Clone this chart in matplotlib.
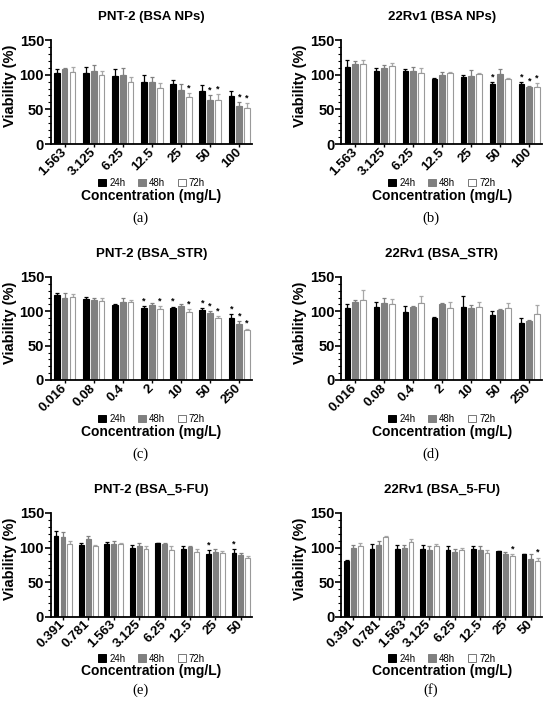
import numpy as np
import matplotlib
matplotlib.use("Agg")
import matplotlib.pyplot as plt
from matplotlib.patches import Patch
from matplotlib.ticker import MultipleLocator

plt.rcParams["font.family"] = ["Liberation Sans", "DejaVu Sans"]

times = ["24h", "48h", "72h"]

# (a) PNT-2 (BSA NPs)
conc_a = ["1.563", "3.125", "6.25", "12.5", "25", "50", "100"]
a_24 = [102, 102, 98.5, 90, 87, 77, 69]
a_48 = [107.5, 106, 100, 89, 78, 64, 55]
a_72 = [104, 99.5, 89, 80.5, 68.5, 64, 52]
a_err24 = [6, 9, 9, 9, 6, 8, 8]
a_err48 = [1.5, 8, 10, 7, 8, 6, 5]
a_err72 = [7, 6, 8, 7, 5, 8, 7]
a_stars = [(4, 2), (5, 1), (5, 2), (6, 1), (6, 2)]

# (b) 22Rv1 (BSA NPs)
conc_b = ["1.563", "3.125", "6.25", "12.5", "25", "50", "100"]
b_24 = [110.5, 105, 105, 94, 97, 86.5, 86.5]
b_48 = [115, 109.5, 106, 99.5, 98.5, 100.5, 81.5]
b_72 = [115.5, 113, 103, 103, 100.5, 94, 81.5]
b_err24 = [10, 5, 3, 1, 3, 3, 3]
b_err48 = [4, 4, 5, 4, 8, 8, 2.5]
b_err72 = [5, 4, 6, 1, 1.5, 1, 6]
b_stars = [(5, 0), (6, 0), (6, 1), (6, 2)]

# (c) PNT-2 (BSA_STR)
conc_c = ["0.016", "0.08", "0.4", "2", "10", "50", "250"]
c_24 = [123.5, 118, 109.5, 105, 105, 102.5, 91]
c_48 = [120, 116.5, 114, 109, 108, 97, 81.5]
c_72 = [121, 115.5, 113.5, 104, 99.5, 91, 72.5]
c_err24 = [2.5, 2.5, 1, 2.5, 2, 2.5, 5]
c_err48 = [6, 2.5, 5, 3, 2.5, 3, 4.5]
c_err72 = [4, 4, 3, 4, 4, 2.5, 2.5]
c_stars = [(3, 0), (3, 2), (4, 0), (4, 2), (5, 0), (5, 1), (5, 2),
           (6, 0), (6, 1), (6, 2)]

# (d) 22Rv1 (BSA_STR)
conc_d = ["0.016", "0.08", "0.4", "2", "10", "50", "250"]
d_24 = [105, 107, 99.5, 90, 106, 95, 83]
d_48 = [113, 112, 106, 111, 105, 102.5, 86.5]
d_72 = [117, 110.5, 112, 105, 107, 105, 96.5]
d_err24 = [5.5, 7, 8, 2, 17, 6, 8]
d_err48 = [4, 7, 1.5, 1.5, 4, 0.5, 1]
d_err72 = [14, 8, 11, 9, 7, 7, 12]
d_stars = []

# (e) PNT-2 (BSA_5-FU)
conc_e = ["0.391", "0.781", "1.563", "3.125", "6.25", "12.5", "25", "50"]
e_24 = [116.5, 103, 105, 99, 106, 98.5, 91, 92]
e_48 = [115, 112, 105, 102, 105, 100.5, 94, 89.5]
e_72 = [105, 102.5, 105, 98.5, 96, 93.5, 92.5, 85]
e_err24 = [8, 3.5, 3, 5, 1, 3.5, 5.5, 5.5]
e_err48 = [7, 4, 5, 4, 2, 2, 4.5, 3]
e_err72 = [4, 1, 1.5, 4, 6, 4, 3, 3]
e_stars = [(6, 0), (7, 0)]

# (f) 22Rv1 (BSA_5-FU)
conc_f = ["0.391", "0.781", "1.563", "3.125", "6.25", "12.5", "25", "50"]
f_24 = [80.5, 98.5, 98.5, 97.5, 97, 98, 94.5, 90]
f_48 = [99, 104, 99, 96, 93, 96, 90.5, 83.5]
f_72 = [101.5, 114.5, 108.5, 101.5, 97, 92.5, 87, 81]
f_err24 = [2, 6, 4.5, 6, 5.5, 4, 1, 1]
f_err48 = [5, 5, 4.5, 6, 4.5, 6, 3, 7]
f_err72 = [4.5, 2, 3.5, 3.5, 3, 4.5, 3, 4.5]
f_stars = [(6, 2), (7, 2)]

panels = [
    ("PNT-2 (BSA NPs)", "(a)", conc_a, [a_24, a_48, a_72], [a_err24, a_err48, a_err72], a_stars),
    ("22Rv1 (BSA NPs)", "(b)", conc_b, [b_24, b_48, b_72], [b_err24, b_err48, b_err72], b_stars),
    ("PNT-2 (BSA_STR)", "(c)", conc_c, [c_24, c_48, c_72], [c_err24, c_err48, c_err72], c_stars),
    ("22Rv1 (BSA_STR)", "(d)", conc_d, [d_24, d_48, d_72], [d_err24, d_err48, d_err72], d_stars),
    ("PNT-2 (BSA_5-FU)", "(e)", conc_e, [e_24, e_48, e_72], [e_err24, e_err48, e_err72], e_stars),
    ("22Rv1 (BSA_5-FU)", "(f)", conc_f, [f_24, f_48, f_72], [f_err24, f_err48, f_err72], f_stars),
]

fill = ["#000000", "#808080", "#ffffff"]
edge = ["#000000", "#808080", "#9a9a9a"]
ecol = ["#000000", "#808080", "#a8a8a8"]

W, H = 550, 711
fig = plt.figure(figsize=(W / 100, H / 100), dpi=100)

# axes boxes in pixels: left, right, top, bottom
lefts = [51, 341.5]
rights = [252, 542]
tops = [40, 277, 513]
bottoms = [144, 380, 616.5]
row_off = [(39, 52, 74), (39, 52, 74), (42, 55, 74)]

for i, (title, letter, cats, vals, errs, stars) in enumerate(panels):
    r, c = divmod(i, 2)
    l, rt, t, b = lefts[c], rights[c], tops[r], bottoms[r]
    ax = fig.add_axes([l / W, 1 - b / H, (rt - l) / W, (b - t) / H])
    x = np.arange(len(cats))
    bw, off = 0.19, 0.27
    for k in range(3):
        xs = x + (k - 1) * off
        ax.bar(xs, vals[k], bw, color=fill[k], edgecolor=edge[k], linewidth=0.8, zorder=2)
        ax.errorbar(xs, vals[k], yerr=[np.zeros(len(cats)), errs[k]], fmt="none",
                    ecolor=ecol[k], elinewidth=0.9, capsize=1.6, capthick=0.9, zorder=1)
    for g, k in stars:
        ax.text(g + (k - 1) * off, vals[k][g] + errs[k][g] + 1, "*", ha="center",
                va="bottom", fontsize=6.5, fontweight="bold")
    n = len(cats)
    ax.set_xlim(-0.47, n - 1 + 0.44)
    ax.set_ylim(0, 150)
    ax.yaxis.set_major_locator(MultipleLocator(50))
    ax.yaxis.set_minor_locator(MultipleLocator(10))
    ax.set_xticks(x)
    ax.set_xticklabels(cats, rotation=45, ha="right", va="center", rotation_mode="anchor",
                       fontsize=9.5, fontweight="bold")
    for lab in ax.get_yticklabels():
        lab.set_fontsize(10.5)
        lab.set_fontweight("bold")
    ax.tick_params(axis="y", which="major", length=4, width=1.2, pad=1)
    ax.tick_params(axis="y", which="minor", length=2, width=0.8)
    ax.tick_params(axis="x", length=2.5, width=1.0, pad=2)
    for s in ["top", "right"]:
        ax.spines[s].set_visible(False)
    for s in ["left", "bottom"]:
        ax.spines[s].set_linewidth(1.3)
    ax.set_ylabel("Viability (%)", fontsize=10.5, fontweight="bold")
    ax.yaxis.set_label_coords(-0.17, 0.56)

    cx = (l + rt) / 2 / W
    leg_y, xl_y, let_y = row_off[r]
    fig.text(cx, 1 - (t - 23) / H, title, ha="center", va="center", fontsize=9.5,
             fontweight="bold")
    handles = [Patch(facecolor=fill[k], edgecolor=edge[k] if k < 2 else "#777777",
                     linewidth=0.7, label=times[k]) for k in range(3)]
    fig.legend(handles=handles, loc="center", bbox_to_anchor=(cx, 1 - (b + leg_y) / H),
               ncol=3, frameon=False, fontsize=7, handlelength=0.8, handleheight=0.8,
               handletextpad=0.35, columnspacing=1.3, borderpad=0, borderaxespad=0)
    fig.text(cx, 1 - (b + xl_y) / H, "Concentration (mg/L)", ha="center", va="center",
             fontsize=10, fontweight="bold")
    fig.text(cx - 0.02, 1 - (b + let_y) / H, letter, ha="center", va="center",
             fontsize=10.5, family=["Liberation Serif", "DejaVu Serif"])

fig.savefig("out.png", dpi=100)
